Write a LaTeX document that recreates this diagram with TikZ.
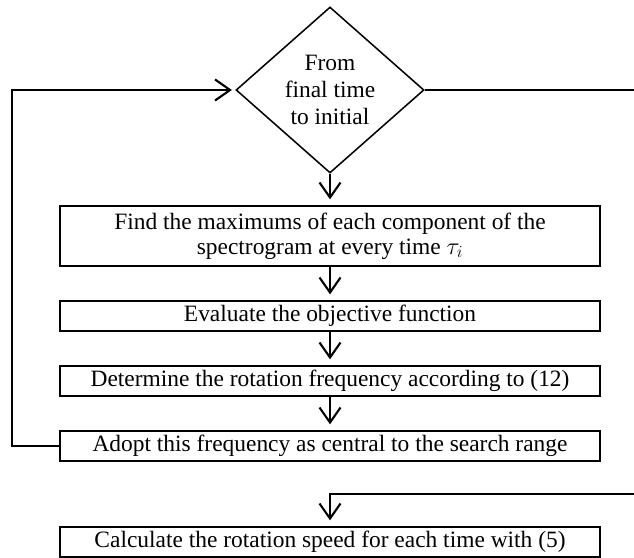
\documentclass[tikz,border=0pt]{standalone}
\usepackage{fontspec}
\setmainfont{Liberation Serif}
\usepackage{tikz}
\usetikzlibrary{shapes.geometric,arrows.meta}
\newcommand{\boxfont}{\fontsize{20}{21.3}\selectfont}
\newcommand{\decfont}{\fontsize{20}{23}\selectfont}

\begin{document}
\begin{tikzpicture}[
  stepbox/.style={draw, line width=1.1pt, minimum width=16.2cm,
    minimum height=0.9cm, inner sep=0pt, align=center, font=\boxfont},
  decision/.style={diamond, draw, line width=1.3pt, minimum width=5.64cm,
    minimum height=4.98cm, inner sep=0pt, align=center, font=\decfont},
  arr/.style={-{Straight Barb[length=4.5mm,width=6.3mm]}, line width=1.8pt,
    shorten >=0.18cm},
  wire/.style={line width=1.8pt},
]
  \useasboundingbox (0,0) rectangle (19.02,-16.74);

  % Loop condition
  \node[decision] (dec) at (9.9,-2.7)
    {From\\final time\\to initial};

  % Steps of the loop
  \node[stepbox, minimum height=1.8cm] (find) at (9.9,-7.08)
    {Find the maximums of each component of the\\spectrogram at every time $\tau_i$};
  \node[stepbox] (eval) at (9.9,-9.48)
    {Evaluate the objective function};
  \node[stepbox] (det) at (9.9,-11.43)
    {Determine the rotation frequency according to (12)};
  \node[stepbox] (adopt) at (9.9,-13.38)
    {Adopt this frequency as central to the search range};

  % Final step
  \node[stepbox] (calc) at (9.9,-16.26)
    {Calculate the rotation speed for each time with (5)};

  % Free ends of the connectors
  \coordinate (loopL) at (0.36,-13.38);
  \coordinate (exitR) at (19.02,-2.7);
  \coordinate (entR) at (19.02,-14.82);
  \coordinate (entC) at (9.9,-14.82);

  % Arrows
  \draw[arr] (dec.south) -- (find.north);
  \draw[arr] (find.south) -- (eval.north);
  \draw[arr] (eval.south) -- (det.north);
  \draw[arr] (det.south) -- (adopt.north);
  \draw[arr, shorten >=0.1cm] (adopt.west) -- (loopL) |- (dec.west);
  \draw[wire] (dec.east) -- (exitR);
  \draw[arr] (entR) -- (entC) -- (calc.north);
\end{tikzpicture}
\end{document}
